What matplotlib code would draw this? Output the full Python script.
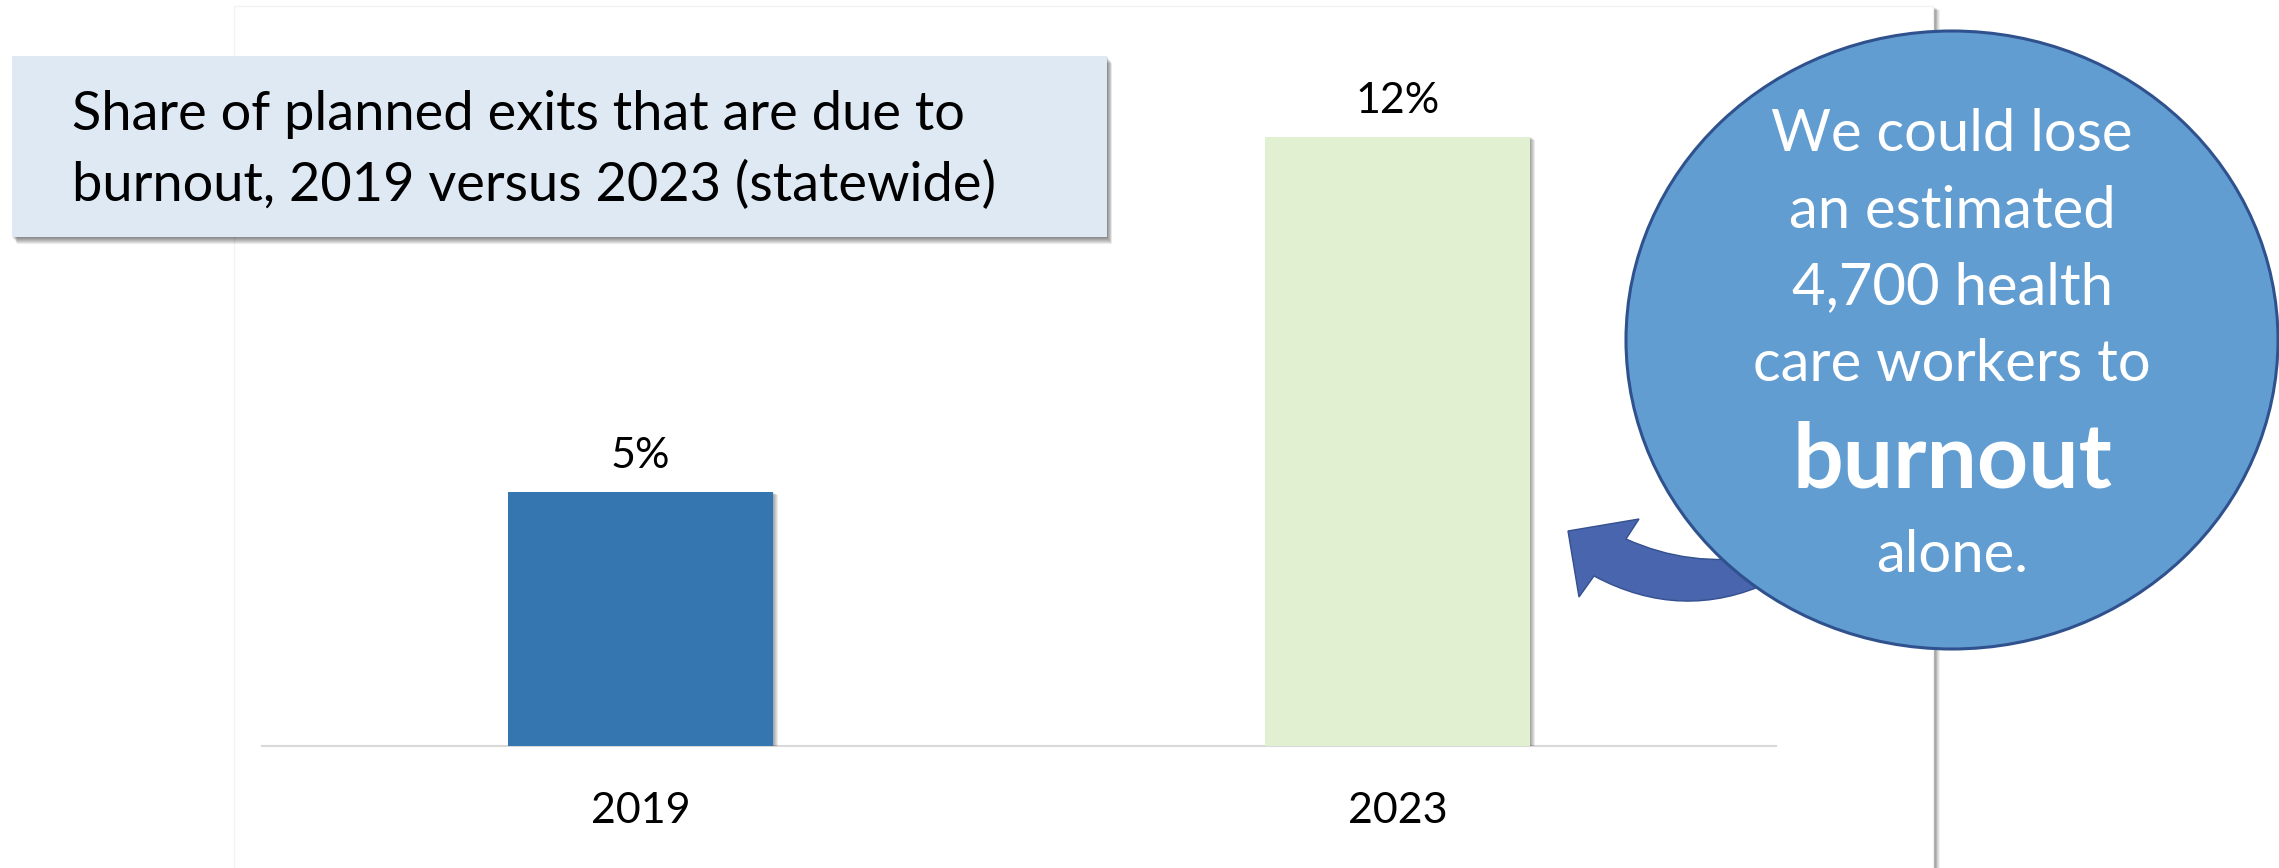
import matplotlib
matplotlib.use('Agg')
import matplotlib.pyplot as plt
import matplotlib.patheffects as pe
from matplotlib.patches import Rectangle, Ellipse, PathPatch
from matplotlib.path import Path

plt.rcParams['font.family'] = ['Lato', 'DejaVu Sans']

W, H = 2279, 868
DPI = 100
PT = 72 / DPI  # points per pixel

# data
years = ['2019', '2023']
share = [5, 12]
title_lines = ['Share of planned exits that are due to',
               'burnout, 2019 versus 2023 (statewide)']
callout_lines = ['We could lose', 'an estimated', '4,700 health', 'care workers to']
callout_bold = 'burnout'
callout_last = 'alone.'

bar_colors = ['#3676b0', '#e0f0d0']


def soft_shadow(dx, dy, alpha=0.35, steps=6):
    # stacked offset copies give a blurry drop shadow
    effects = []
    for i in range(steps, 0, -1):
        f = i / steps
        effects.append(pe.SimplePatchShadow(offset=(dx * f * PT, -dy * f * PT),
                                            shadow_rgbFace='black',
                                            alpha=alpha / steps))
    effects.append(pe.Normal())
    return effects


def fit_width(txt, target, renderer):
    w = txt.get_window_extent(renderer).width
    txt.set_fontsize(txt.get_fontsize() * target / w)
    return txt.get_fontsize()


fig = plt.figure(figsize=(W / DPI, H / DPI), dpi=DPI)
fig.patch.set_facecolor('white')

# white chart panel behind everything (pixel coords)
bg = fig.add_axes([0, 0, 1, 1], zorder=0)
bg.set_xlim(0, W)
bg.set_ylim(H, 0)
bg.axis('off')
bg.add_patch(Rectangle((234, 6), 1699, 870, facecolor='white', edgecolor='#f3f3f3',
                       lw=1, path_effects=soft_shadow(7, 4, 0.5, 8)))

# bar chart
ax = fig.add_axes([262 / W, 1 - 746 / H, 1514 / W, 711 / H], zorder=1)
ax.set_facecolor('none')
x = list(range(len(years)))
bars = ax.bar(x, share, width=0.349, color=bar_colors, zorder=3)
for b in bars:
    b.set_path_effects(soft_shadow(5, 3, 0.4, 5))
ax.set_xlim(-0.5, 1.5)
ax.set_ylim(0, 14)
for s in ['top', 'right', 'left']:
    ax.spines[s].set_visible(False)
ax.spines['bottom'].set_color('#d9d9d9')
ax.spines['bottom'].set_linewidth(1.5)
ax.set_yticks([])
ax.set_xticks(x, years)
ax.tick_params(axis='x', length=0, pad=77 * PT, labelsize=31, labelcolor='black')
plt.setp(ax.get_xticklabels(), va='baseline')
for xi, v in zip(x, share):
    ax.annotate(f'{v}%', xy=(xi, v), xytext=(0, 24 * PT), textcoords='offset points',
                ha='center', va='baseline', fontsize=31, color='black')

# overlay: title box, arrow and callout bubble
ov = fig.add_axes([0, 0, 1, 1], zorder=2)
ov.set_xlim(0, W)
ov.set_ylim(H, 0)
ov.axis('off')
ov.set_facecolor('none')

ov.add_patch(Rectangle((12, 56), 1095, 181, facecolor='#dee9f4', edgecolor='none',
                       path_effects=soft_shadow(5, 7, 0.55, 7), zorder=2))

renderer = fig.canvas.get_renderer()
t1 = ov.text(72, 130, title_lines[0], ha='left', va='baseline', fontsize=40,
             color='black', zorder=3)
fs = fit_width(t1, 892, renderer)
ov.text(72, 201, title_lines[1], ha='left', va='baseline', fontsize=fs,
        color='black', zorder=3)

# curved block arrow pointing back at the chart
M, C3, L, CL = Path.MOVETO, Path.CURVE3, Path.LINETO, Path.CLOSEPOLY
arrow_verts = [(1626, 539), (1690, 568), (1760, 556), (1770, 582), (1682, 623),
               (1594, 576), (1579, 597), (1568, 531), (1639, 519), (1626, 539)]
arrow_codes = [M, C3, C3, L, C3, C3, L, L, L, CL]
ov.add_patch(PathPatch(Path(arrow_verts, arrow_codes), facecolor='#4865ad',
                       edgecolor='#34508f', lw=1, zorder=3))

ov.add_patch(Ellipse((1952, 340), 652, 618, facecolor='#629dd1', edgecolor='#2f528f',
                     lw=2.2, zorder=4))

cx = 1952
ref = ov.text(cx, 381, callout_lines[3], ha='center', va='baseline', fontsize=30,
              color='white', zorder=5)
cfs = fit_width(ref, 397, renderer)
for line, yb in zip(callout_lines[:3], [151, 228, 304]):
    ov.text(cx, yb, line, ha='center', va='baseline', fontsize=cfs, color='white', zorder=5)
tb = ov.text(cx, 488, callout_bold, ha='center', va='baseline', fontsize=45,
             fontweight='bold', color='white', zorder=5)
fit_width(tb, 320, renderer)
ov.text(cx, 572, callout_last, ha='center', va='baseline', fontsize=cfs,
        color='white', zorder=5)

fig.savefig('out.png', dpi=DPI, facecolor='white')
